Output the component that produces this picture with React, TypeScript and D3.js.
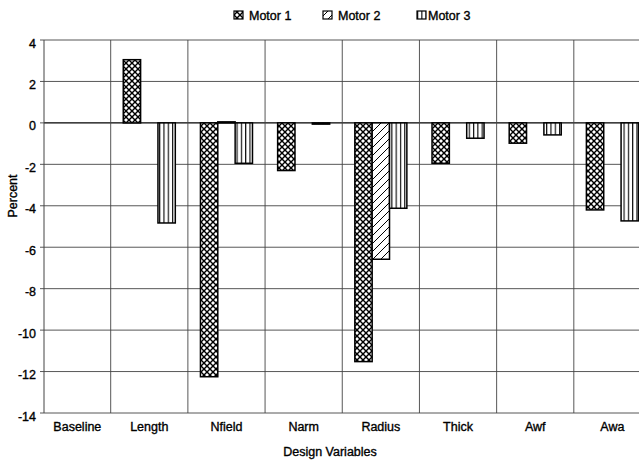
import React from "react";
import * as d3 from "d3";

// Percent change per design variable for each motor
const categories = ["Baseline", "Length", "Nfield", "Narm", "Radius", "Thick", "Awf", "Awa"];
const seriesNames = ["Motor 1", "Motor 2", "Motor 3"];
const motor1 = [0, 3.05, -12.25, -2.3, -11.52, -1.95, -0.98, -4.2];
const motor2 = [0, 0, 0.05, 0, -6.58, 0, 0, 0];
const motor3 = [0, -4.83, -1.95, -0.06, -4.12, -0.74, -0.58, -4.73];
const yTicks = [4, 2, 0, -2, -4, -6, -8, -10, -12, -14];

const W = 639;
const H = 461;
const FONT = "'Liberation Sans', Arial, Helvetica, sans-serif";
const textStyle = { stroke: "#000", strokeWidth: 0.35 };

export default function App() {
  const plotLeft = 44;
  const plotRight = W;
  const plotTop = 40;
  const plotBottom = 413;

  const y = d3.scaleLinear().domain([-14, 4]).range([plotBottom, plotTop]);
  const x = d3.scaleBand<string>().domain(categories).range([33.5, 651]);
  const inner = d3
    .scaleBand<string>()
    .domain(seriesNames)
    .range([0, x.bandwidth()])
    .paddingInner(0)
    .paddingOuter(0.725);

  const values = [motor1, motor2, motor3];
  const patIds = ["pat-m1", "pat-m2", "pat-m3"];
  const legendX = [234, 323, 417];
  const legendGap = [15, 15, 11];

  const boundaries = categories.map((c) => x(c) as number).filter((v) => v > plotLeft);

  return (
    <svg
      width={W}
      height={H}
      style={{ position: "absolute", left: 0, top: 0, background: "#fff" }}
      fontFamily={FONT}
    >
      <defs>
        <pattern id="pat-m1" width={6} height={6} patternUnits="userSpaceOnUse">
          <rect width={6} height={6} fill="#000" />
          <path
            d="M3,1 L5,3 L3,5 L1,3 Z M0,-2 L2,0 L0,2 L-2,0 Z M6,-2 L8,0 L6,2 L4,0 Z M0,4 L2,6 L0,8 L-2,6 Z M6,4 L8,6 L6,8 L4,6 Z"
            fill="#fff"
          />
        </pattern>
        <pattern id="pat-m2" width={8} height={8} patternUnits="userSpaceOnUse">
          <rect width={8} height={8} fill="#fff" />
          <path d="M0,8 L8,0 M-2,2 L2,-2 M6,10 L10,6" stroke="#000" strokeWidth={1} />
        </pattern>
        <pattern id="pat-m3" width={4.3} height={8} patternUnits="userSpaceOnUse">
          <rect width={4.3} height={8} fill="#fff" />
          <line x1={0.6} y1={0} x2={0.6} y2={8} stroke="#000" strokeWidth={1.1} />
        </pattern>
        <clipPath id="plot-clip">
          <rect x={plotLeft} y={plotTop - 2} width={plotRight - plotLeft} height={plotBottom - plotTop + 4} />
        </clipPath>
      </defs>

      {/* legend */}
      {seriesNames.map((s, i) => (
        <g key={s} transform={`translate(${legendX[i]},0)`}>
          <rect x={0} y={11} width={9} height={8} fill={`url(#${patIds[i]})`} stroke="#000" strokeWidth={1.2} />
          <text x={legendGap[i]} y={20} fontSize={12.5} fill="#000" style={textStyle}>
            {s}
          </text>
        </g>
      ))}

      {/* horizontal gridlines */}
      {yTicks.map((t) => (
        <line
          key={`h${t}`}
          x1={plotLeft}
          x2={plotRight}
          y1={y(t)}
          y2={y(t)}
          stroke={t === 0 ? "#000" : "#444"}
          strokeWidth={t === 0 ? 1.4 : 0.9}
        />
      ))}

      {/* vertical category separators */}
      {boundaries.map((bx, i) => (
        <line key={`v${i}`} x1={bx} x2={bx} y1={plotTop} y2={plotBottom} stroke="#444" strokeWidth={0.9} />
      ))}

      {/* y axis */}
      <line x1={plotLeft} x2={plotLeft} y1={plotTop} y2={plotBottom} stroke="#444" strokeWidth={1} />
      {yTicks.map((t) => (
        <g key={`t${t}`}>
          <line x1={plotLeft - 4} x2={plotLeft} y1={y(t)} y2={y(t)} stroke="#444" strokeWidth={0.9} />
          <text x={36} y={y(t) + 7.5} textAnchor="end" fontSize={12.5} fill="#000" style={textStyle}>
            {t}
          </text>
        </g>
      ))}

      {/* bars */}
      <g clipPath="url(#plot-clip)">
        {categories.map((c, ci) =>
          seriesNames.map((s, si) => {
            const v = values[si][ci];
            if (v === 0) return null;
            const bx = (x(c) as number) + (inner(s) as number);
            const y0 = y(0);
            const y1 = y(v);
            return (
              <rect
                key={`${c}-${s}`}
                x={bx}
                y={Math.min(y0, y1)}
                width={inner.bandwidth()}
                height={Math.max(Math.abs(y1 - y0), 0.8)}
                fill={`url(#${patIds[si]})`}
                stroke="#000"
                strokeWidth={1.5}
              />
            );
          })
        )}
      </g>

      {/* category labels */}
      {categories.map((c) => {
        const x0 = Math.max(x(c) as number, plotLeft);
        const x1 = (x(c) as number) + x.bandwidth();
        return (
          <text
            key={`l${c}`}
            x={(x0 + x1) / 2}
            y={431}
            textAnchor="middle"
            fontSize={12.5}
            fill="#000"
            style={textStyle}
          >
            {c}
          </text>
        );
      })}

      {/* axis titles */}
      <text
        x={330}
        y={456}
        textAnchor="middle"
        fontSize={12.5}
        fill="#000"
        style={textStyle}
      >
        Design Variables
      </text>
      <text
        transform={`translate(17,196) rotate(-90)`}
        textAnchor="middle"
        fontSize={12.5}
        fill="#000"
        style={textStyle}
      >
        Percent
      </text>
    </svg>
  );
}
